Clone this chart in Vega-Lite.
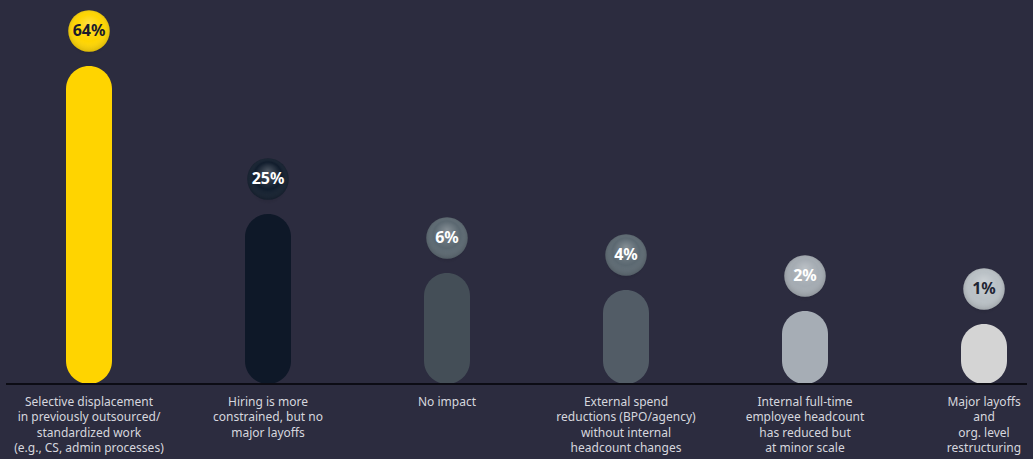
{
  "$schema": "https://vega.github.io/schema/vega-lite/v6.json",
  "width": 1021,
  "height": 384,
  "padding": {"left": 6, "right": 6, "top": 0, "bottom": 75},
  "autosize": {"type": "none"},
  "background": "#2c2c3f",
  "config": {"view": {"stroke": null}},
  "data": {
    "values": [
      {"cat": "A", "value": 64, "pct": "64%", "label": "Selective displacement\nin previously outsourced/\nstandardized work\n(e.g., CS, admin processes)"},
      {"cat": "B", "value": 25, "pct": "25%", "label": "Hiring is more\nconstrained, but no\nmajor layoffs"},
      {"cat": "C", "value": 6, "pct": "6%", "label": "No impact"},
      {"cat": "D", "value": 4, "pct": "4%", "label": "External spend\nreductions (BPO/agency)\nwithout internal\nheadcount changes"},
      {"cat": "E", "value": 2, "pct": "2%", "label": "Internal full-time\nemployee headcount\nhas reduced but\nat minor scale"},
      {"cat": "F", "value": 1, "pct": "1%", "label": "Major layoffs\nand\norg. level\nrestructuring"}
    ]
  },
  "encoding": {
    "x": {"field": "cat", "type": "nominal", "axis": null, "scale": {"type": "point", "padding": 0, "domain": ["A", "B", "C", "D", "E", "F"], "range": [83, 978]}},
    "y": {"field": "value", "type": "quantitative", "axis": null, "scale": {"type": "linear", "domain": [0, 1, 2, 4, 6, 25, 64], "range": [384, 324, 311, 290, 273, 214, 66], "zero": false, "nice": false, "clamp": false}}
  },
  "layer": [
    {
      "mark": {"type": "bar", "width": 46, "cornerRadius": 23},
      "encoding": {
        "color": {"field": "cat", "type": "nominal", "legend": null, "scale": {"domain": ["A", "B", "C", "D", "E", "F"], "range": ["#ffd400", "#0e1828", "#444e57", "#525c66", "#a6adb5", "#d4d4d4"]}}
      }
    },
    {
      "mark": {"type": "rule", "color": "#0d0d14", "strokeWidth": 1.5},
      "encoding": {"x": {"value": 0}, "x2": {"value": 1021}, "y": {"datum": 0, "type": "quantitative"}}
    },
    {
      "mark": {"type": "point", "shape": "circle", "filled": true, "size": 1500, "opacity": 1, "yOffset": -29,
        "fill": {"gradient": "radial", "x1": 0.5, "y1": 0.5, "r1": 0, "x2": 0.5, "y2": 0.5, "r2": 0.5,
          "stops": [{"offset": 0, "color": "rgba(10,10,20,0.45)"}, {"offset": 1, "color": "rgba(10,10,20,0)"}]}},
      "encoding": {}
    },
    {
      "mark": {"type": "point", "shape": "circle", "filled": true, "size": 1720, "opacity": 1, "yOffset": -35},
      "encoding": {
        "color": {"field": "cat", "type": "nominal", "legend": null, "scale": {"domain": ["A", "B", "C", "D", "E", "F"], "range": ["#ffd500", "#101c2c", "#5a6770", "#5b6871", "#a4abb2", "#b9c0c5"]}}
      }
    },
    {
      "mark": {"type": "point", "shape": "circle", "filled": true, "size": 1720, "opacity": 1, "yOffset": -35,
        "fill": {"gradient": "radial", "x1": 0.5, "y1": 0.3, "r1": 0, "x2": 0.5, "y2": 0.5, "r2": 0.55,
          "stops": [{"offset": 0, "color": "rgba(255,255,255,0.25)"}, {"offset": 0.6, "color": "rgba(255,255,255,0.0)"}, {"offset": 1, "color": "rgba(0,0,0,0.2)"}]}},
      "encoding": {}
    },
    {
      "mark": {"type": "text", "yOffset": -35, "baseline": "middle", "align": "center", "font": "Noto Sans", "fontWeight": "bold", "fontSize": 16},
      "encoding": {
        "text": {"field": "pct"},
        "color": {"field": "cat", "type": "nominal", "legend": null, "scale": {"domain": ["A", "B", "C", "D", "E", "F"], "range": ["#1b1b2b", "#ffffff", "#ffffff", "#ffffff", "#ffffff", "#1e2533"]}}
      }
    },
    {
      "mark": {"type": "text", "baseline": "top", "align": "center", "dy": 13, "lineBreak": "\n", "lineHeight": 15.4, "font": "Noto Sans", "fontSize": 12, "color": "#d6d7de"},
      "encoding": {
        "y": {"datum": 0, "type": "quantitative"},
        "text": {"field": "label"}
      }
    }
  ],
  "resolve": {"scale": {"color": "independent"}}
}
